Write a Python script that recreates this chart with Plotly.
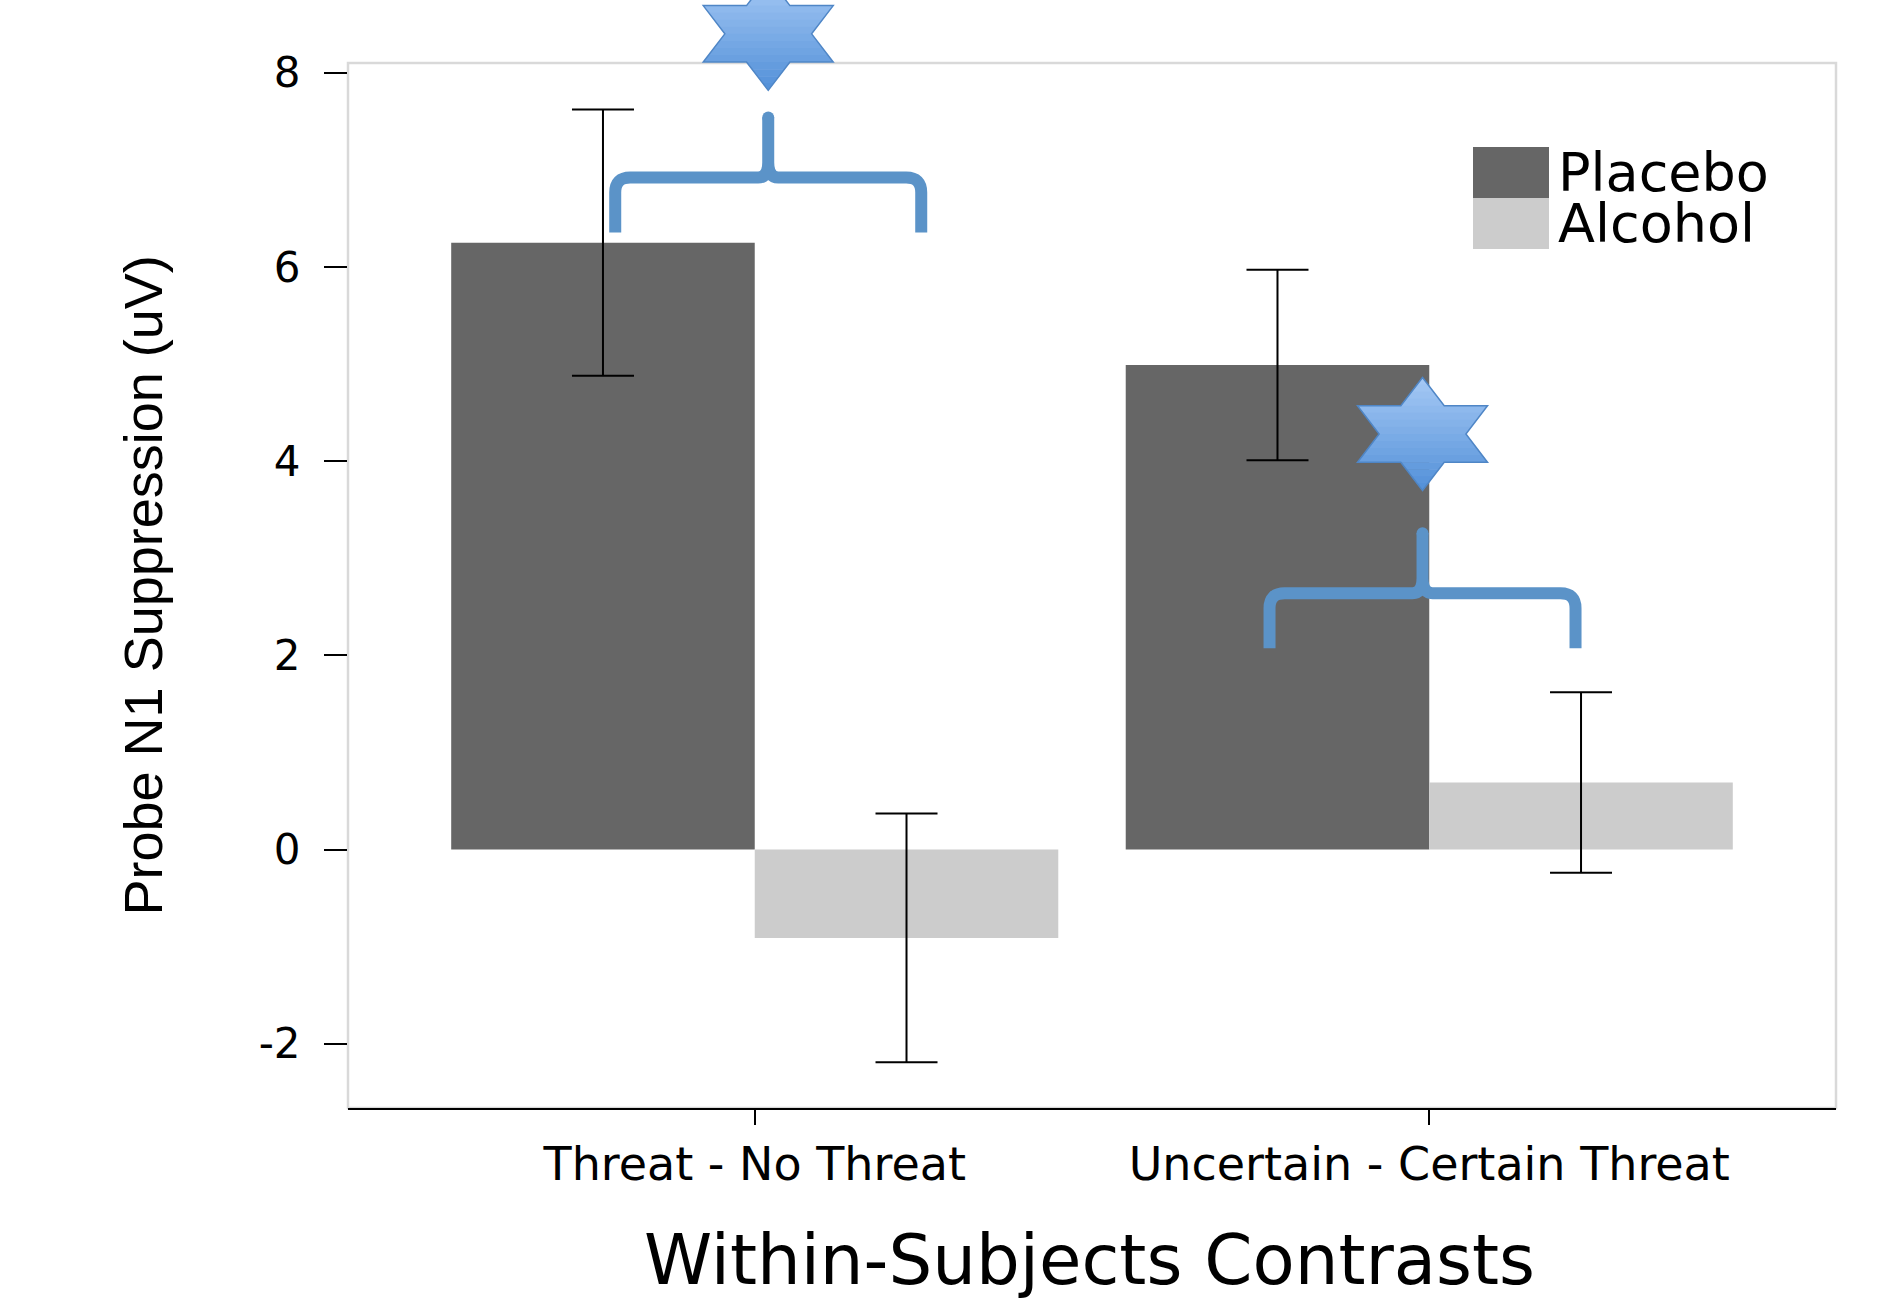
import plotly.graph_objects as go

# ---------------- data ----------------
categories = ["Threat - No Threat", "Uncertain - Certain Threat"]
series_names = ["Placebo", "Alcohol"]
placebo_vals = [6.25, 4.99]
placebo_err = [1.37, 0.98]
alcohol_vals = [-0.91, 0.69]
alcohol_err = [1.28, 0.93]
y_tickvals = [-2, 0, 2, 4, 6, 8]
y_ticktext = ["-2", "0", "2", "4", "6", "8"]

# significance markers (brace + star) per contrast
sig_x = [0.02, 0.99]
sig_brace_y = [6.92, 2.64]
sig_star_y = [8.40, 4.28]

colors = ["#666666", "#cccccc"]
Y_RANGE = [-2.662, 8.10]
X_RANGE = [-0.603, 1.603]

W, H = 1903, 1301
ML, MR, MT, MB = 348, 67, 63, 193

fig = go.Figure()
xs = list(range(len(categories)))
for name, vals, errs, col in zip(series_names, [placebo_vals, alcohol_vals],
                                 [placebo_err, alcohol_err], colors):
    fig.add_trace(go.Bar(
        x=xs, y=vals, name=name, marker=dict(color=col, line=dict(width=0)),
        error_y=dict(type="data", array=errs, visible=True, color="black",
                     thickness=2, width=31),
        showlegend=False,
    ))


def ypaper(v):
    return (v - Y_RANGE[0]) / (Y_RANGE[1] - Y_RANGE[0])


def clip_band(poly, ylo, yhi):
    def clip(pts, keep, inter):
        out = []
        n = len(pts)
        for i in range(n):
            a, b = pts[i], pts[(i + 1) % n]
            ka, kb = keep(a), keep(b)
            if ka:
                out.append(a)
                if not kb:
                    out.append(inter(a, b))
            elif kb:
                out.append(inter(a, b))
        return out

    def inter_y(yc):
        def f(a, b):
            t = (yc - a[1]) / (b[1] - a[1])
            return (a[0] + t * (b[0] - a[0]), yc)
        return f
    p = clip(poly, lambda q: q[1] >= ylo, inter_y(ylo))
    if not p:
        return p
    return clip(p, lambda q: q[1] <= yhi, inter_y(yhi))


def mix(c1, c2, t):
    a = [int(c1[i:i + 2], 16) for i in (1, 3, 5)]
    b = [int(c2[i:i + 2], 16) for i in (1, 3, 5)]
    return "#%02x%02x%02x" % tuple(round(a[k] + (b[k] - a[k]) * t) for k in range(3))


shapes = []
# panel border
shapes.append(dict(type="rect", xref="paper", yref="paper", x0=0, x1=1, y0=0, y1=1,
                   line=dict(color="#d9d9d9", width=2.5), layer="below"))

brace_path = ("M -153,-55 L -153,-15 Q -153,0 -138,0 L -10,0 Q 0,0 0,15 L 0,60 "
              "M 0,15 Q 0,0 10,0 L 138,0 Q 153,0 153,-15 L 153,-55")
R, w, ri, rh = 56.5, 65, 43.4, 21.7
star_pts = [(0, R), (rh, R / 2), (w, R / 2), (ri, 0), (w, -R / 2), (rh, -R / 2),
            (0, -R), (-rh, -R / 2), (-w, -R / 2), (-ri, 0), (-w, R / 2), (-rh, R / 2)]
star_path = "M " + " L ".join(f"{x:.2f},{y:.2f}" for x, y in star_pts) + " Z"
N_BANDS = 16
top_col, bot_col = "#a6c9f5", "#5290d8"

for sx, by, sy in zip(sig_x, sig_brace_y, sig_star_y):
    common = dict(xref="x", yref="paper", xsizemode="pixel", ysizemode="pixel",
                  xanchor=sx)
    shapes.append(dict(type="path", yanchor=ypaper(by), path=brace_path,
                       line=dict(color="#5b93c8", width=12), **common))
    shapes.append(dict(type="circle", yanchor=ypaper(by), x0=-6, x1=6, y0=54, y1=66,
                       fillcolor="#5b93c8", line=dict(width=0), **common))
    # gradient-filled star via horizontal bands
    for k in range(N_BANDS):
        yhi = R - k * (2 * R / N_BANDS)
        ylo = yhi - 2 * R / N_BANDS - 0.6
        poly = clip_band(star_pts, ylo, yhi)
        if len(poly) < 3:
            continue
        p = "M " + " L ".join(f"{x:.2f},{y:.2f}" for x, y in poly) + " Z"
        shapes.append(dict(type="path", yanchor=ypaper(sy), path=p,
                           fillcolor=mix(top_col, bot_col, (k + 0.5) / N_BANDS),
                           line=dict(width=0), **common))
    shapes.append(dict(type="path", yanchor=ypaper(sy), path=star_path,
                       line=dict(color="#4f86c6", width=1.5), **common))

annotations = []
# manual legend
plot_w = W - ML - MR
plot_h = H - MT - MB
lx0 = (1473 - ML) / plot_w
lx1 = (1549 - ML) / plot_w
row_h = 51 / plot_h
ly_top = (H - MB - 147) / plot_h
for i, (name, col) in enumerate(zip(series_names, colors)):
    y1 = ly_top - i * row_h
    y0 = y1 - row_h
    shapes.append(dict(type="rect", xref="paper", yref="paper", x0=lx0, x1=lx1,
                       y0=y0, y1=y1, fillcolor=col, line=dict(width=0)))
    annotations.append(dict(xref="paper", yref="paper", x=(1556 - ML) / plot_w,
                            y=(y0 + y1) / 2, text=name, showarrow=False,
                            xanchor="left", yanchor="middle",
                            font=dict(family="DejaVu Sans", size=54, color="black")))

# axis titles
annotations.append(dict(xref="paper", yref="paper", x=(142 - ML) / plot_w, y=0.5,
                        text="Probe N1 Suppression (uV)", textangle=-90, showarrow=False,
                        xanchor="center", yanchor="middle",
                        font=dict(family="Liberation Sans", size=54, color="black")))
annotations.append(dict(xref="paper", yref="paper", x=(1089 - ML) / plot_w,
                        y=-(1260 - (H - MB)) / plot_h,
                        text="Within-Subjects Contrasts", showarrow=False,
                        xanchor="center", yanchor="middle",
                        font=dict(family="DejaVu Sans", size=69, color="black")))

fig.update_layout(
    width=W, height=H,
    margin=dict(l=ML, r=MR, t=MT, b=MB, autoexpand=False),
    paper_bgcolor="white", plot_bgcolor="white",
    barmode="group", bargap=0.1, bargroupgap=0,
    shapes=shapes, annotations=annotations,
    font=dict(family="DejaVu Sans", color="black"),
)
fig.update_xaxes(range=X_RANGE, tickvals=xs, ticktext=categories, showgrid=False,
                 zeroline=False, showline=True, linecolor="black", linewidth=2,
                 ticks="outside", ticklen=15, tickwidth=2, tickcolor="black",
                 ticklabelstandoff=0, tickfont=dict(family="DejaVu Sans", size=46))
fig.update_yaxes(range=Y_RANGE, tickvals=y_tickvals, ticktext=y_ticktext, showgrid=False,
                 zeroline=False, showline=False, ticks="outside", ticklen=23, tickwidth=2,
                 tickcolor="black", ticklabelstandoff=15,
                 tickfont=dict(family="DejaVu Sans", size=42))

fig.write_html("out.html", config={"displayModeBar": False},
               post_script="document.body.style.margin='0';")
